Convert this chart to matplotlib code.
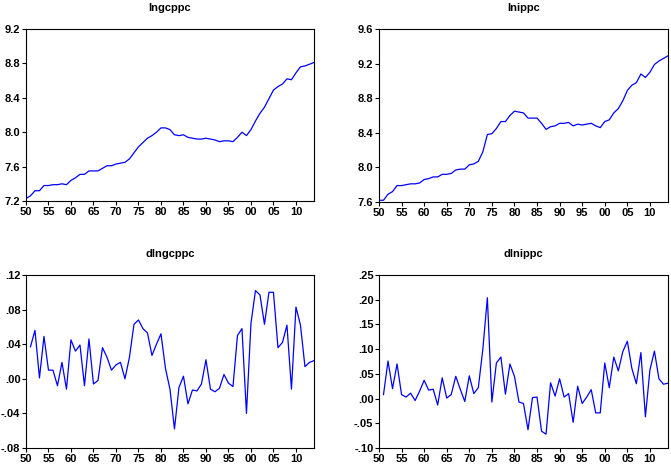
import matplotlib.pyplot as plt

plt.rcParams['font.family'] = ['Liberation Sans', 'DejaVu Sans']

years = list(range(1950, 2015))

lngcppc = [7.23, 7.26, 7.32, 7.32, 7.38, 7.38, 7.39, 7.39, 7.40, 7.39,
           7.44, 7.47, 7.51, 7.51, 7.55, 7.55, 7.55, 7.58, 7.61, 7.61,
           7.63, 7.64, 7.65, 7.69, 7.76, 7.83, 7.88, 7.93, 7.96, 8.00,
           8.05, 8.05, 8.03, 7.97, 7.96, 7.97, 7.94, 7.93, 7.92, 7.92,
           7.93, 7.92, 7.91, 7.89, 7.90, 7.90, 7.89, 7.94, 8.00, 7.96,
           8.03, 8.13, 8.22, 8.29, 8.39, 8.49, 8.53, 8.56, 8.62, 8.61,
           8.69, 8.76, 8.77, 8.79, 8.81]

lnippc = [7.62, 7.62, 7.69, 7.72, 7.79, 7.79, 7.80, 7.81, 7.81, 7.82,
          7.86, 7.87, 7.89, 7.89, 7.92, 7.92, 7.93, 7.97, 7.98, 7.98,
          8.03, 8.04, 8.07, 8.18, 8.38, 8.39, 8.45, 8.53, 8.53, 8.60,
          8.65, 8.64, 8.63, 8.57, 8.57, 8.57, 8.51, 8.44, 8.47, 8.48,
          8.51, 8.51, 8.52, 8.48, 8.50, 8.49, 8.50, 8.51, 8.48, 8.46,
          8.53, 8.55, 8.63, 8.68, 8.77, 8.89, 8.95, 8.98, 9.08, 9.04,
          9.10, 9.19, 9.23, 9.26, 9.29]

# differences start in 1951
dlngcppc = [0.037, 0.056, 0.001, 0.049, 0.010, 0.010, -0.008, 0.019, -0.012,
            0.045, 0.032, 0.039, -0.008, 0.046, -0.006, -0.002, 0.036, 0.025, 0.010,
            0.016, 0.019, 0.000, 0.025, 0.063, 0.068, 0.058, 0.053, 0.027, 0.040,
            0.052, 0.012, -0.012, -0.058, -0.010, 0.003, -0.029, -0.013, -0.014, -0.006,
            0.022, -0.012, -0.015, -0.011, 0.005, -0.005, -0.009, 0.050, 0.058, -0.040,
            0.064, 0.102, 0.097, 0.063, 0.100, 0.100, 0.036, 0.042, 0.062, -0.012,
            0.083, 0.062, 0.014, 0.019, 0.021]

dlnippc = [0.008, 0.076, 0.020, 0.070, 0.008, 0.003, 0.011, -0.004, 0.015,
           0.037, 0.017, 0.019, -0.013, 0.042, 0.001, 0.008, 0.045, 0.019, -0.006,
           0.046, 0.010, 0.022, 0.100, 0.204, -0.007, 0.072, 0.084, 0.009, 0.070,
           0.045, -0.007, -0.010, -0.063, 0.002, 0.003, -0.066, -0.072, 0.032, 0.005,
           0.040, 0.003, 0.010, -0.048, 0.025, -0.010, 0.003, 0.018, -0.029, -0.029,
           0.072, 0.022, 0.084, 0.056, 0.095, 0.116, 0.061, 0.030, 0.093, -0.037,
           0.058, 0.096, 0.040, 0.029, 0.031]

x_ticks = list(range(1950, 2015, 5))
x_labels = ["50", "55", "60", "65", "70", "75", "80", "85", "90", "95", "00", "05", "10"]

panels = [
    ("lngcppc", years, lngcppc, [7.2, 7.6, 8.0, 8.4, 8.8, 9.2],
     ["7.2", "7.6", "8.0", "8.4", "8.8", "9.2"], [0.0387, 0.5677, 0.4292, 0.370]),
    ("lnippc", years, lnippc, [7.6, 8.0, 8.4, 8.8, 9.2, 9.6],
     ["7.6", "8.0", "8.4", "8.8", "9.2", "9.6"], [0.5648, 0.5656, 0.4307, 0.372]),
    ("dlngcppc", years[1:], dlngcppc, [-0.08, -0.04, 0.0, 0.04, 0.08, 0.12],
     ["-.08", "-.04", ".00", ".04", ".08", ".12"], [0.0387, 0.0366, 0.4292, 0.372]),
    ("dlnippc", years[1:], dlnippc, [-0.10, -0.05, 0.0, 0.05, 0.10, 0.15, 0.20, 0.25],
     ["-.10", "-.05", ".00", ".05", ".10", ".15", ".20", ".25"], [0.5648, 0.0366, 0.4307, 0.372]),
]

fig = plt.figure(figsize=(6.71, 4.65), dpi=100)
for title, xs, ys, yt, yl, pos in panels:
    ax = fig.add_axes(pos)
    ax.plot(xs, ys, color="blue", linewidth=0.9)
    ax.set_xlim(1950, 2014)
    ax.set_ylim(yt[0], yt[-1])
    ax.set_xticks(x_ticks)
    ax.set_xticklabels(x_labels)
    ax.set_yticks(yt)
    ax.set_yticklabels(yl)
    ax.tick_params(direction="out", length=3, width=0.8, labelsize=8, pad=1)
    for lab in ax.get_xticklabels() + ax.get_yticklabels():
        lab.set_fontweight("bold")
    for s in ax.spines.values():
        s.set_linewidth(0.8)
    ax.set_title(title, fontsize=8, fontweight="bold", pad=13)

fig.savefig("out.png", dpi=100)
